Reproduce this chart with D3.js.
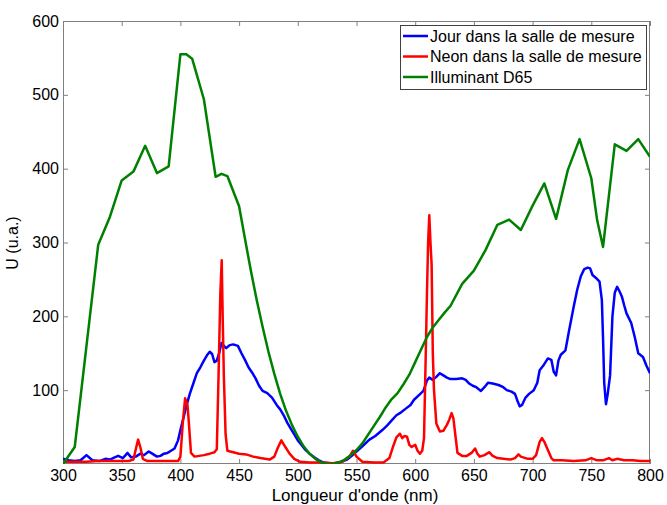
<!DOCTYPE html>
<html><head><meta charset="utf-8">
<script src="https://cdn.jsdelivr.net/npm/d3@7"></script>
<style>body{margin:0;background:#fff;}svg{display:block;font-family:Arial,"Liberation Sans",sans-serif;}</style>
</head><body>
<script>
const xTicks = [300,350,400,450,500,550,600,650,700,750,800];
const yTicks = [100,200,300,400,500,600];
const seriesNames = ["Jour dans la salle de mesure","Neon dans la salle de mesure","Illuminant D65"];
const seriesColors = ["#0000ff","#ff0000","#008000"];

const jourWl = [300,305,310,315,320,325,331,336,340,344,347,351,355,358,362,366,369,373,376,380,383,386,389,391,395,398,400,403,405,408,411,414,417,420,423,425,427,429,431,433,435,437,439,442,445,449,452,455,458,461,464,467,470,474,478,482,485,488,491,494,497,500,503,506,510,514,518,522,527,532,537,542,546,550,555,561,566,572,576,580,584,588,592,596,599,603,607,610,612,615,618,621,624,627,630,635,640,643,646,649,652,656,659,662,666,671,675,678,682,685,687,689,691,694,697,701,704,706,709,713,716,718,720,722,724,728,731,735,738,741,744,747,749,751,754,757,759,760,761,762.5,764,766,768,770,772,774,776,778,780,784,787,790,794,797,800];
const jourU = [7,5,4,5,12,5,4,7,6,9,11,8,15,9,10,14,12,17,14,10,11,14,15,17,21,32,46,65,78,95,109,123,131,140,148,152,149,138,140,150,164,160,157,161,162,160,150,141,131,124,116,106,99,96,90,80,74,66,56,48,40,32,26,20,14,9,5,2,1,1,3,6,11,17,24,33,38,46,52,59,66,70,75,80,87,93,99,113,117,114,118,123,120,117,115,115,116,114,109,106,104,99,104,110,109,107,104,100,98,95,86,78,80,90,95,100,110,127,133,143,141,125,120,140,148,154,180,213,236,254,264,266,265,256,252,247,222,170,110,81,95,120,200,232,240,234,227,215,204,191,172,150,145,133,123];

const neonWl = [300,310,320,330,340,350,356,360,362,364,366,368,372,380,390,398,400,402,404,406,407,409,412,416,420,425,429,431,432.5,434,435.2,436,437,438.5,440,445,450,456,462,468,476,480,483,486,489,493,497,502,510,520,530,538,544,547,550,555,565,573,578,581,584,587,589,591,593,595,597,600,602,604,606,607.5,609,610,611,612,613,614,615,616,618,621,624,627,629,631,632.5,634,636,640,644,648,651,653,655,659,663,666,670,675,681,685,688,690,692,696,700,703,706,708,710,713,716,718,725,735,745,750,755,760,765,768,772,778,785,792,800];
const neonU = [3,3,3,4,4,4,4,6,20,33,22,7,4,4,4,4,10,55,89,80,60,15,10,11,12,14,16,20,120,230,276,200,120,40,18,16,14,13,10,8,6,10,22,32,24,14,7,3,2,2,1,3,10,18,10,3,2,2,8,23,36,41,35,38,37,26,23,26,18,14,18,35,150,230,300,337,300,270,150,100,55,44,45,53,60,69,62,42,15,11,11,15,21,14,10,12,16,11,8,7,6,8,13,10,9,7,7,12,30,35,30,19,8,5,5,4,5,8,5,5,8,5,7,5,5,4,4];

const d65Wl = [300,310,320,330,340,350,360,370,380,390,400,405,410,420,430,435,440,450,455,460,465,470,475,480,485,490,495,500,505,510,515,520,525,530,535,540,545,550,555,560,565,570,575,580,585,590,595,600,605,610,615,620,625,630,640,650,660,670,680,690,700,710,720,730,740,750,755,760,770,780,790,800];
const d65U = [0,23,160,297,335,384,396,431,394,403,555,555,549,494,389,393,390,349,305,262,222,186,152,122,95,72,53,37,24,14,7,2,0,0,2,6,12,19,28,40,52,64,77,88,96,108,121,138,155,172,185,195,205,214,244,262,290,324,331,317,350,380,332,398,440,387,330,294,433,424,440,416];

const W = 667, H = 505;
const m = {left:63, right:650, top:21, bottom:464};
const svg = d3.select("body").append("svg").attr("width",W).attr("height",H);
const x = d3.scaleLinear().domain([300,800]).range([m.left,m.right]);
const y = d3.scaleLinear().domain([0,600]).range([m.bottom,m.top]);

svg.append("defs").append("clipPath").attr("id","clip").append("rect")
  .attr("x",m.left).attr("y",m.top).attr("width",m.right-m.left).attr("height",m.bottom-m.top);

const axisColor = "#808080";
function style(g){
  g.select(".domain").remove();
  g.selectAll("line").attr("stroke",axisColor);
  g.selectAll("text").attr("fill","#000").style("font-size","16px");
}
svg.append("g").attr("transform",`translate(0,${m.bottom})`)
  .call(d3.axisBottom(x).tickValues(xTicks).tickSize(-5).tickPadding(6)).call(style);
svg.append("g").attr("transform",`translate(0,${m.top})`)
  .call(d3.axisTop(x).tickValues(xTicks).tickSize(-5).tickFormat("")).call(style);
svg.append("g").attr("transform",`translate(${m.left},0)`)
  .call(d3.axisLeft(y).tickValues(yTicks).tickSize(-5).tickPadding(4)).call(style);
svg.append("g").attr("transform",`translate(${m.right},0)`)
  .call(d3.axisRight(y).tickValues(yTicks).tickSize(-5).tickFormat("")).call(style);
svg.append("rect").attr("x",m.left+0.5).attr("y",m.top+0.5)
  .attr("width",m.right-m.left-1).attr("height",m.bottom-m.top-1)
  .attr("fill","none").attr("stroke",axisColor);

const series = [[jourWl,jourU],[neonWl,neonU],[d65Wl,d65U]];
const line = d3.line().x(d=>x(d[0])).y(d=>y(d[1]));
const plot = svg.append("g").attr("clip-path","url(#clip)");
series.forEach((s,i)=>{
  const data = s[0].map((w,j)=>[w,s[1][j]]);
  plot.append("path").datum(data).attr("d",line)
    .attr("fill","none").attr("stroke",seriesColors[i]).attr("stroke-width",2.5)
    .attr("stroke-linejoin","round");
});

svg.append("text").attr("x",355).attr("y",501)
  .attr("text-anchor","middle").style("font-size","17px").text("Longueur d'onde (nm)");
svg.append("text").attr("transform","translate(18,243) rotate(-90)")
  .attr("text-anchor","middle").style("font-size","16px").text("U (u.a.)");

const lg = svg.append("g");
lg.append("rect").attr("x",400.5).attr("y",25.5).attr("width",246).attr("height",64)
  .attr("fill","#fff").attr("stroke","#404040");
seriesNames.forEach((n,i)=>{
  const cy = 36 + i*20.5;
  lg.append("line").attr("x1",403).attr("x2",428).attr("y1",cy).attr("y2",cy)
    .attr("stroke",seriesColors[i]).attr("stroke-width",2.5);
  lg.append("text").attr("x",430).attr("y",cy).attr("dy","0.35em")
    .style("font-size","16px").text(n);
});
</script>
</body></html>
